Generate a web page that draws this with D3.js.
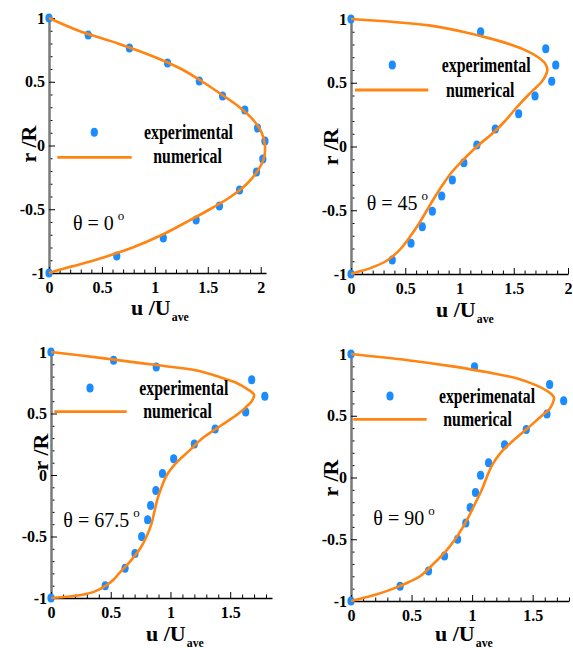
<!DOCTYPE html>
<html>
<head>
<meta charset="utf-8">
<script src="https://cdn.jsdelivr.net/npm/d3@7"></script>
<style>
body { margin: 0; background: #fff; }
svg text { font-family: "Liberation Serif", "Times New Roman", serif; }
</style>
</head>
<body>
<svg id="drawing_region"></svg>
<script>
// ---- data ----
const yTicks = [-1, -0.5, 0, 0.5, 1];
const xTicksTop = [0, 0.5, 1, 1.5, 2];
const xTicksBottom = [0, 0.5, 1, 1.5];
const angleLabels = ["0", "45", "67.5", "90"];
const legendExp = ["experimental", "experimental", "experimental", "experimenatal"];
const legendNum = "numerical";

// theta = 0
const exp0_u = [0, 0.37, 0.76, 1.12, 1.42, 1.64, 1.85, 1.97, 2.04, 2.02, 1.96, 1.80, 1.61, 1.39, 1.08, 0.64, 0];
const exp0_r = [1, 0.867, 0.765, 0.647, 0.506, 0.388, 0.278, 0.137, 0.035, -0.106, -0.208, -0.349, -0.475, -0.584, -0.725, -0.867, -1];
const num0_r = [-1, -0.975, -0.95, -0.9, -0.8, -0.7, -0.6, -0.5, -0.4, -0.3, -0.2, -0.1, 0, 0.1, 0.2, 0.3, 0.4, 0.5, 0.6, 0.7, 0.8, 0.9, 1];
const num0_u = [0, 0.10, 0.21, 0.43, 0.79, 1.07, 1.30, 1.52, 1.72, 1.87, 1.97, 2.03, 2.04, 2.01, 1.93, 1.80, 1.63, 1.45, 1.25, 0.98, 0.65, 0.28, 0];

// theta = 45
const exp45_u = [0, 1.195, 1.795, 1.887, 1.85, 1.696, 1.545, 1.33, 1.16, 1.04, 0.934, 0.836, 0.75, 0.657, 0.553, 0.38, 0];
const exp45_r = [1, 0.90, 0.767, 0.639, 0.511, 0.396, 0.257, 0.137, 0.012, -0.128, -0.263, -0.388, -0.508, -0.629, -0.759, -0.89, -1];
const num45_r = [-1, -0.975, -0.95, -0.9, -0.85, -0.8, -0.7, -0.6, -0.5, -0.4, -0.3, -0.2, -0.1, 0, 0.1, 0.2, 0.3, 0.4, 0.45, 0.5, 0.55, 0.6, 0.65, 0.7, 0.75, 0.8, 0.85, 0.9, 0.95, 1];
const num45_u = [0, 0.10, 0.19, 0.32, 0.40, 0.46, 0.55, 0.63, 0.70, 0.77, 0.845, 0.93, 1.04, 1.16, 1.30, 1.42, 1.52, 1.63, 1.69, 1.75, 1.79, 1.81, 1.79, 1.725, 1.62, 1.47, 1.27, 1.03, 0.72, 0];

// theta = 67.5
const exp67_u = [0, 0.524, 0.881, 1.68, 1.79, 1.63, 1.374, 1.20, 1.027, 0.933, 0.878, 0.834, 0.809, 0.759, 0.703, 0.62, 0.454, 0];
const exp67_r = [1, 0.932, 0.878, 0.775, 0.64, 0.512, 0.374, 0.252, 0.132, 0.012, -0.127, -0.248, -0.364, -0.5, -0.638, -0.759, -0.90, -1];
const num67_r = [-1, -0.975, -0.95, -0.9, -0.85, -0.8, -0.7, -0.6, -0.5, -0.4, -0.3, -0.2, -0.1, 0, 0.1, 0.2, 0.3, 0.4, 0.5, 0.55, 0.6, 0.65, 0.7, 0.75, 0.8, 0.85, 0.9, 0.95, 1];
const num67_u = [0, 0.25, 0.36, 0.46, 0.525, 0.57, 0.665, 0.745, 0.80, 0.84, 0.865, 0.89, 0.925, 0.97, 1.05, 1.16, 1.27, 1.42, 1.57, 1.63, 1.68, 1.70, 1.64, 1.55, 1.40, 1.22, 0.83, 0.43, 0];

// theta = 90
const exp90_u = [0, 1.02, 1.64, 1.756, 1.618, 1.447, 1.268, 1.136, 1.07, 1.028, 0.984, 0.948, 0.88, 0.772, 0.64, 0.405, 0];
const exp90_r = [1, 0.897, 0.754, 0.622, 0.514, 0.389, 0.265, 0.119, 0.019, -0.122, -0.243, -0.368, -0.50, -0.635, -0.757, -0.881, -1];
const num90_r = [-1, -0.975, -0.95, -0.9, -0.85, -0.8, -0.7, -0.6, -0.5, -0.4, -0.3, -0.2, -0.1, 0, 0.1, 0.2, 0.3, 0.4, 0.5, 0.55, 0.6, 0.65, 0.7, 0.75, 0.8, 0.85, 0.9, 0.95, 1];
const num90_u = [0, 0.10, 0.20, 0.35, 0.47, 0.57, 0.68, 0.78, 0.86, 0.925, 0.98, 1.03, 1.08, 1.12, 1.165, 1.235, 1.34, 1.46, 1.575, 1.635, 1.665, 1.675, 1.62, 1.52, 1.38, 1.14, 0.84, 0.47, 0];

const serif = '"Liberation Serif", "Times New Roman", serif';

const svg = d3.select('#drawing_region')
    .attr('width', 573)
    .attr('height', 648);

class ProfileChart {

    constructor( config, data ) {
        this.config = config;
        this.data = data;
        this.init();
    }

    init() {
        let self = this;
        const c = self.config;

        self.chart = svg.append('g');

        self.xscale = d3.scaleLinear()
            .domain( [0, c.xmax] )
            .range( [c.left, c.right] );

        self.yscale = d3.scaleLinear()
            .domain( [-1, 1] )
            .range( [c.bottom, c.top] );
    }

    render() {
        let self = this;
        const c = self.config;
        const d = self.data;
        const isMajor = v => Math.abs(v * 2 - Math.round(v * 2)) < 1e-6;

        // minor ticks (0.1 steps), pointing inward
        const xminor = d3.range(0, c.xmax + 1e-6, 0.1).filter(v => !isMajor(v));
        const yminor = d3.range(-1, 1 + 1e-6, 0.1).filter(v => !isMajor(v));

        self.chart.append('g')
            .attr('transform', `translate(0, ${c.bottom})`)
            .call( d3.axisBottom(self.xscale).tickValues(xminor).tickSize(-3.5).tickFormat('') )
            .call( g => g.select('.domain').remove() );

        self.chart.append('g')
            .attr('transform', `translate(${c.left}, 0)`)
            .call( d3.axisLeft(self.yscale).tickValues(yminor).tickSize(-3.5).tickFormat('') )
            .call( g => g.select('.domain').remove() );

        // major axes
        const yaxis = self.chart.append('g')
            .attr('transform', `translate(${c.left}, 0)`)
            .call( d3.axisLeft(self.yscale)
                .tickValues(yTicks)
                .tickSizeInner(-6)
                .tickSizeOuter(0)
                .tickPadding(4)
                .tickFormat(v => String(v)) );
        yaxis.select('.domain').attr('stroke', '#7a7a7a').attr('stroke-width', 2.5);

        const xaxis = self.chart.append('g')
            .attr('transform', `translate(0, ${c.bottom})`)
            .call( d3.axisBottom(self.xscale)
                .tickValues(d.xticks)
                .tickSizeInner(-6)
                .tickSizeOuter(0)
                .tickPadding(9)
                .tickFormat(v => String(v)) );
        xaxis.select('.domain').attr('stroke', '#000').attr('stroke-width', 1.6);

        self.chart.selectAll('.tick text')
            .attr('font-family', serif)
            .attr('font-size', 16)
            .attr('font-weight', 'bold')
            .attr('fill', '#000');

        // axis titles
        const xt = self.chart.append('text')
            .attr('x', c.xtitle[0])
            .attr('y', c.xtitle[1])
            .attr('font-family', serif)
            .attr('font-size', 22)
            .attr('font-weight', 'bold')
            .text('u /U');
        xt.append('tspan')
            .attr('font-size', 13)
            .attr('dy', 6)
            .attr('dx', 1)
            .attr('textLength', 17)
            .attr('lengthAdjust', 'spacingAndGlyphs')
            .text('ave');

        self.chart.append('text')
            .attr('transform', `translate(${c.ytitle[0]}, ${c.ytitle[1]}) rotate(-90)`)
            .attr('text-anchor', 'middle')
            .attr('font-family', serif)
            .attr('font-size', 22)
            .attr('font-weight', 'bold')
            .text('r /R');

        // experimental points
        const pts = d.exp_u.map((u, i) => ({ u: u, r: d.exp_r[i] }));
        self.chart.selectAll('ellipse.exp')
            .data(pts)
            .enter()
            .append('ellipse')
            .attr('class', 'exp')
            .attr('cx', p => self.xscale(p.u))
            .attr('cy', p => self.yscale(p.r))
            .attr('rx', 3.6)
            .attr('ry', 4.5)
            .attr('fill', '#1a8cff');

        // numerical curve
        const curve = d.num_u.map((u, i) => ({ u: u, r: d.num_r[i] }));
        const line = d3.line()
            .x(p => self.xscale(p.u))
            .y(p => self.yscale(p.r))
            .curve(d3.curveCatmullRom.alpha(0.5));
        self.chart.append('path')
            .datum(curve)
            .attr('d', line)
            .attr('fill', 'none')
            .attr('stroke', '#ff8412')
            .attr('stroke-width', 2.6);

        // legend
        self.chart.append('ellipse')
            .attr('cx', c.legMarker[0])
            .attr('cy', c.legMarker[1])
            .attr('rx', 3.6)
            .attr('ry', 4.5)
            .attr('fill', '#1a8cff');
        self.chart.append('line')
            .attr('x1', c.legLine[0])
            .attr('x2', c.legLine[1])
            .attr('y1', c.legLine[2])
            .attr('y2', c.legLine[2])
            .attr('stroke', '#ff8412')
            .attr('stroke-width', 2.8);
        self.chart.append('text')
            .attr('x', c.legText1[0])
            .attr('y', c.legText1[1])
            .attr('font-family', serif)
            .attr('font-size', 20)
            .attr('font-weight', 'bold')
            .attr('textLength', d.expLabel.length > 12 ? 96 : 89)
            .attr('lengthAdjust', 'spacingAndGlyphs')
            .text(d.expLabel);
        self.chart.append('text')
            .attr('x', c.legText2[0])
            .attr('y', c.legText2[1])
            .attr('font-family', serif)
            .attr('font-size', 20)
            .attr('font-weight', 'bold')
            .attr('textLength', 68.5)
            .attr('lengthAdjust', 'spacingAndGlyphs')
            .text(legendNum);

        // angle label
        const th = self.chart.append('text')
            .attr('x', c.theta[0])
            .attr('y', c.theta[1])
            .attr('font-family', serif)
            .attr('font-size', 20)
            .text('\u03B8 = ' + d.angle);
        th.append('tspan')
            .attr('font-size', 13)
            .attr('dx', 4)
            .attr('dy', -10)
            .text('o');
    }
}

const panels = [
    { config: { left: 49, right: 266, top: 18, bottom: 273, xmax: 2.05,
                xtitle: [131, 315], ytitle: [36, 144],
                legMarker: [94.3, 132.3], legLine: [57.3, 131.7, 157.3],
                legText1: [144, 139], legText2: [153.3, 163.3], theta: [73, 230] },
      data: { exp_u: exp0_u, exp_r: exp0_r, num_u: num0_u, num_r: num0_r,
              xticks: xTicksTop, angle: angleLabels[0], expLabel: legendExp[0] } },
    { config: { left: 351, right: 568, top: 19, bottom: 274, xmax: 2.0,
                xtitle: [436, 317], ytitle: [338, 146.7],
                legMarker: [392.3, 65], legLine: [355, 428.3, 90],
                legText1: [441.7, 71.7], legText2: [446, 96.7], theta: [366.7, 210] },
      data: { exp_u: exp45_u, exp_r: exp45_r, num_u: num45_u, num_r: num45_r,
              xticks: xTicksTop, angle: angleLabels[1], expLabel: legendExp[1] } },
    { config: { left: 51, right: 272, top: 352, bottom: 598, xmax: 1.85,
                xtitle: [146, 641], ytitle: [48, 452],
                legMarker: [90, 388], legLine: [54.3, 126.7, 411.7],
                legText1: [139.3, 395], legText2: [143.3, 418], theta: [63.3, 527] },
      data: { exp_u: exp67_u, exp_r: exp67_r, num_u: num67_u, num_r: num67_r,
              xticks: xTicksBottom, angle: angleLabels[2], expLabel: legendExp[2] } },
    { config: { left: 351, right: 569, top: 354, bottom: 601, xmax: 1.8,
                xtitle: [435, 641], ytitle: [338, 478],
                legMarker: [390, 396], legLine: [353.3, 426.7, 419.3],
                legText1: [439, 402.7], legText2: [443.3, 426], theta: [373.3, 525] },
      data: { exp_u: exp90_u, exp_r: exp90_r, num_u: num90_u, num_r: num90_r,
              xticks: xTicksBottom, angle: angleLabels[3], expLabel: legendExp[3] } }
];

panels.forEach( p => {
    const chart = new ProfileChart( p.config, p.data );
    chart.render();
});
</script>
</body>
</html>
